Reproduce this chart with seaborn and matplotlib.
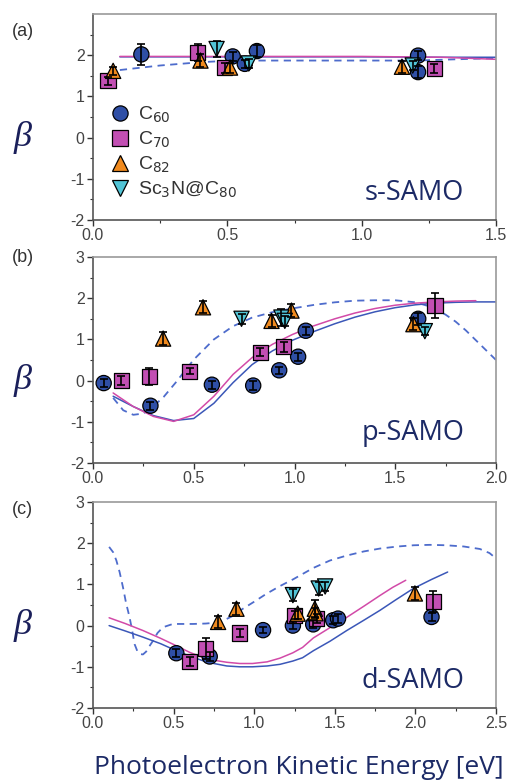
import numpy as np
import pandas as pd
import matplotlib
matplotlib.use("Agg")
import matplotlib.pyplot as plt
import seaborn as sns

sns.set_theme(style="ticks")
plt.rcParams['font.family'] = ['Liberation Sans', 'DejaVu Sans']

# ---------------- data ----------------
species = ["C$_{60}$", "C$_{70}$", "C$_{82}$", "Sc$_3$N@C$_{80}$"]

# panel (a) s-SAMO
a_c60_x = [0.18, 0.52, 0.565, 0.61, 1.21, 1.21]
a_c60_y = [2.02, 1.97, 1.79, 2.10, 1.99, 1.59]
a_c60_e = [0.25, 0.10, 0.10, 0.15, 0.10, 0.15]
a_c70_x = [0.056, 0.39, 0.49, 1.27]
a_c70_y = [1.38, 2.07, 1.70, 1.68]
a_c70_e = [0.10, 0.20, 0.12, 0.10]
a_c82_x = [0.075, 0.40, 0.51, 1.15]
a_c82_y = [1.62, 1.87, 1.70, 1.72]
a_c82_e = [0.10, 0.15, 0.12, 0.15]
a_sc_x = [0.46, 0.58, 1.19]
a_sc_y = [2.15, 1.80, 1.75]
a_sc_e = [0.20, 0.10, 0.10]

a_mag_x = [0.1, 0.5, 1.0, 1.3, 1.5]
a_mag_y = [1.97, 1.97, 1.97, 1.95, 1.90]
a_blu_x = [0.1, 0.5, 1.0, 1.3, 1.5]
a_blu_y = [1.96, 1.96, 1.96, 1.95, 1.95]
a_dash_x = [0.1, 0.25, 0.4, 0.52, 0.7, 1.0, 1.2, 1.35, 1.5]
a_dash_y = [1.64, 1.75, 1.83, 1.87, 1.87, 1.87, 1.87, 1.90, 1.93]

# panel (b) p-SAMO
b_c60_x = [0.053, 0.285, 0.59, 0.795, 0.924, 1.018, 1.056, 1.614]
b_c60_y = [-0.06, -0.61, -0.10, -0.12, 0.25, 0.58, 1.21, 1.50]
b_c60_e = [0.10, 0.10, 0.10, 0.12, 0.08, 0.10, 0.10, 0.15]
b_c70_x = [0.14, 0.28, 0.48, 0.83, 0.947, 1.697]
b_c70_y = [0.00, 0.10, 0.23, 0.69, 0.82, 1.82]
b_c70_e = [0.10, 0.20, 0.08, 0.10, 0.12, 0.30]
b_c82_x = [0.348, 0.546, 0.886, 0.985, 1.59]
b_c82_y = [1.02, 1.78, 1.45, 1.70, 1.37]
b_c82_e = [0.15, 0.15, 0.15, 0.15, 0.15]
b_sc_x = [0.737, 0.935, 0.952, 1.647]
b_sc_y = [1.50, 1.53, 1.45, 1.20]
b_sc_e = [0.12, 0.20, 0.12, 0.10]

b_mag_x = [0.1, 0.2, 0.3, 0.4, 0.5, 0.6, 0.695, 0.79, 0.89, 0.99, 1.09, 1.2, 1.3, 1.4, 1.5, 1.6, 1.7, 1.8, 1.9]
b_mag_y = [-0.30, -0.63, -0.87, -0.99, -0.83, -0.38, 0.15, 0.56, 0.88, 1.12, 1.32, 1.50, 1.64, 1.75, 1.83, 1.88, 1.91, 1.93, 1.94]
b_blu_x = [0.1, 0.2, 0.3, 0.4, 0.5, 0.6, 0.695, 0.79, 0.89, 0.99, 1.09, 1.2, 1.3, 1.4, 1.5, 1.6, 1.7, 1.8, 1.9, 2.0]
b_blu_y = [-0.38, -0.63, -0.85, -0.97, -0.92, -0.55, -0.05, 0.39, 0.72, 0.98, 1.18, 1.38, 1.54, 1.67, 1.77, 1.84, 1.88, 1.90, 1.91, 1.91]
b_dash_x = [0.1, 0.15, 0.2, 0.25, 0.3, 0.35, 0.41, 0.5, 0.6, 0.695, 0.79, 0.89, 1.0, 1.1, 1.2, 1.3, 1.4, 1.5, 1.6, 1.65, 1.7, 1.75, 1.8, 1.85, 1.9, 1.95, 2.0]
b_dash_y = [-0.42, -0.72, -0.83, -0.80, -0.62, -0.40, -0.05, 0.51, 1.00, 1.32, 1.53, 1.66, 1.76, 1.84, 1.90, 1.94, 1.95, 1.95, 1.90, 1.83, 1.73, 1.60, 1.43, 1.22, 0.98, 0.74, 0.50]

# panel (c) d-SAMO
c_c60_x = [0.517, 0.724, 1.055, 1.24, 1.366, 1.49, 1.52, 2.10]
c_c60_y = [-0.67, -0.75, -0.11, 0.00, 0.03, 0.13, 0.17, 0.21]
c_c60_e = [0.10, 0.12, 0.08, 0.08, 0.10, 0.10, 0.10, 0.10]
c_c70_x = [0.60, 0.70, 0.91, 1.25, 1.387, 2.11]
c_c70_y = [-0.87, -0.56, -0.18, 0.25, 0.17, 0.58]
c_c70_e = [0.10, 0.25, 0.10, 0.10, 0.10, 0.25]
c_c82_x = [0.776, 0.89, 1.27, 1.376, 1.38, 1.997]
c_c82_y = [0.09, 0.41, 0.29, 0.41, 0.30, 0.78]
c_c82_e = [0.15, 0.15, 0.12, 0.20, 0.12, 0.15]
c_sc_x = [1.24, 1.40, 1.44]
c_sc_y = [0.74, 0.90, 0.95]
c_sc_e = [0.15, 0.15, 0.12]

c_mag_x = [0.1, 0.2, 0.31, 0.42, 0.517, 0.6, 0.68, 0.75, 0.83, 0.91, 0.99, 1.08, 1.16, 1.24, 1.3, 1.367, 1.47, 1.574, 1.68, 1.78, 1.86, 1.94]
c_mag_y = [0.19, 0.05, -0.12, -0.31, -0.49, -0.65, -0.77, -0.84, -0.89, -0.92, -0.92, -0.88, -0.79, -0.66, -0.53, -0.30, -0.05, 0.20, 0.47, 0.73, 0.93, 1.10]
c_blu_x = [0.1, 0.2, 0.31, 0.42, 0.517, 0.6, 0.68, 0.75, 0.83, 0.91, 0.99, 1.08, 1.16, 1.24, 1.3, 1.367, 1.47, 1.574, 1.68, 1.78, 1.88, 1.987, 2.1, 2.2]
c_blu_y = [0.00, -0.13, -0.28, -0.44, -0.61, -0.74, -0.85, -0.92, -0.98, -1.00, -1.00, -0.98, -0.94, -0.86, -0.78, -0.61, -0.38, -0.12, 0.13, 0.37, 0.63, 0.90, 1.12, 1.30]
c_dash_x = [0.1, 0.125, 0.145, 0.165, 0.186, 0.205, 0.227, 0.243, 0.258, 0.275, 0.29, 0.31, 0.33, 0.35, 0.372, 0.40, 0.434, 0.496, 0.56, 0.62, 0.70, 0.786, 0.86, 0.93, 1.0, 1.075, 1.16, 1.24, 1.367, 1.47, 1.574, 1.68, 1.78, 1.89, 1.99, 2.09, 2.19, 2.3, 2.4, 2.46, 2.5]
c_dash_y = [1.91, 1.78, 1.58, 1.30, 0.93, 0.55, 0.20, -0.12, -0.45, -0.62, -0.69, -0.70, -0.63, -0.50, -0.37, -0.18, -0.04, 0.04, 0.04, 0.04, 0.05, 0.08, 0.22, 0.41, 0.58, 0.77, 0.96, 1.12, 1.40, 1.58, 1.70, 1.80, 1.87, 1.92, 1.95, 1.96, 1.95, 1.92, 1.86, 1.76, 1.63]

# ---------------- styles ----------------
palette = {species[0]: "#2f4fa6", species[1]: "#c24fb3",
           species[2]: "#f08a1e", species[3]: "#52c4d6"}
markers = {species[0]: "o", species[1]: "s", species[2]: "^", species[3]: "v"}
BLUE_LINE = "#3b57b8"
MAG_LINE = "#d24aa8"
DASH_LINE = "#4e6ccc"
TXT = "#1c2a66"

W, H = 531, 784
fig = plt.figure(figsize=(W / 100, H / 100), dpi=100)

left, right = 93 / W, 496 / W
panels = [
    dict(top=14, bottom=220, xmax=1.5, xt=[0.0, 0.5, 1.0, 1.5], yt=[-2, -1, 0, 1, 2],
         pts=[(a_c60_x, a_c60_y, a_c60_e), (a_c70_x, a_c70_y, a_c70_e),
              (a_c82_x, a_c82_y, a_c82_e), (a_sc_x, a_sc_y, a_sc_e)],
         mag=(a_mag_x, a_mag_y), blu=(a_blu_x, a_blu_y), dash=(a_dash_x, a_dash_y),
         label="(a)", label_y=31, samo="s-SAMO", samo_xy=(1.195, -1.34)),
    dict(top=257, bottom=463, xmax=2.0, xt=[0.0, 0.5, 1.0, 1.5, 2.0], yt=[-2, -1, 0, 1, 2, 3],
         pts=[(b_c60_x, b_c60_y, b_c60_e), (b_c70_x, b_c70_y, b_c70_e),
              (b_c82_x, b_c82_y, b_c82_e), (b_sc_x, b_sc_y, b_sc_e)],
         mag=(b_mag_x, b_mag_y), blu=(b_blu_x, b_blu_y), dash=(b_dash_x, b_dash_y),
         label="(b)", label_y=258, samo="p-SAMO", samo_xy=(1.59, -1.27)),
    dict(top=502, bottom=708, xmax=2.5, xt=[0.0, 0.5, 1.0, 1.5, 2.0, 2.5], yt=[-2, -1, 0, 1, 2, 3],
         pts=[(c_c60_x, c_c60_y, c_c60_e), (c_c70_x, c_c70_y, c_c70_e),
              (c_c82_x, c_c82_y, c_c82_e), (c_sc_x, c_sc_y, c_sc_e)],
         mag=(c_mag_x, c_mag_y), blu=(c_blu_x, c_blu_y), dash=(c_dash_x, c_dash_y),
         label="(c)", label_y=510, samo="d-SAMO", samo_xy=(1.985, -1.34)),
]

for i, p in enumerate(panels):
    ax = fig.add_axes([left, 1 - p["bottom"] / H, right - left, (p["bottom"] - p["top"]) / H])
    # theory curves
    sns.lineplot(x=p["dash"][0], y=p["dash"][1], ax=ax, color=DASH_LINE, lw=1.3,
                 linestyle=(0, (4, 3)), zorder=1, sort=False)
    sns.lineplot(x=p["blu"][0], y=p["blu"][1], ax=ax, color=BLUE_LINE, lw=1.1, zorder=1)
    sns.lineplot(x=p["mag"][0], y=p["mag"][1], ax=ax, color=MAG_LINE, lw=1.1, zorder=1)

    rows = []
    for sp, (xs, ys, es) in zip(species, p["pts"]):
        for xv, yv in zip(xs, ys):
            rows.append(dict(x=xv, beta=yv, species=sp))
        ax.errorbar(xs, ys, yerr=es, fmt="none", ecolor="black", elinewidth=1.2,
                    capsize=3, capthick=1.2, zorder=4)
    df = pd.DataFrame(rows)
    sns.scatterplot(data=df, x="x", y="beta", hue="species", style="species",
                    palette=palette, markers=markers, hue_order=species, style_order=species,
                    s=120, edgecolor="black", linewidth=0.9, ax=ax, zorder=3,
                    legend=(i == 0))

    ax.set_xlim(0, p["xmax"])
    ax.set_ylim(-2, 3)
    ax.set_xticks(p["xt"])
    ax.set_xticklabels([f"{t:.1f}" for t in p["xt"]])
    ax.set_yticks(p["yt"])
    ax.set_yticklabels([f"{t:d}" for t in p["yt"]])
    ax.set_xticks(np.arange(0.25, p["xmax"], 0.5), minor=True)
    ax.set_yticks(np.arange(-1.5, 3.0, 1.0), minor=True)
    ax.tick_params(axis="both", which="major", direction="out", length=4, width=1.0,
                   labelsize=11.5, colors="#333333", labelcolor="#444444", pad=2)
    ax.tick_params(axis="both", which="minor", direction="out", length=2.5, width=0.8,
                   colors="#333333")
    ax.set_xlabel("")
    ax.set_ylabel("")
    for s in ["left", "bottom"]:
        ax.spines[s].set_color("#555555")
        ax.spines[s].set_linewidth(1.2)
    for s in ["top", "right"]:
        ax.spines[s].set_color("#999999")
        ax.spines[s].set_linewidth(1.2)

    ax.text(p["samo_xy"][0], p["samo_xy"][1], p["samo"], ha="center", va="center",
            fontsize=19.5, color=TXT, family="Open Sans")

    # beta label at the zero level of each panel
    y0 = 1 - (p["bottom"] - (p["bottom"] - p["top"]) * 2 / 5) / H
    fig.text(23 / W, y0, "β", ha="center", va="center", fontsize=26,
             style="italic", family="Liberation Serif", color="#1a1f5a")
    fig.text(12 / W, 1 - p["label_y"] / H, p["label"],
             ha="left", va="center", fontsize=13, color="#333333")

    if i == 0:
        leg = ax.legend(loc="lower left", bbox_to_anchor=(0.0, 0.04), frameon=False,
                        fontsize=14, handletextpad=0.1, labelspacing=0.25,
                        borderaxespad=0.2, handlelength=1.6, markerscale=1.0)
        for t in leg.get_texts():
            t.set_color("#333333")

fig.text(299 / W, 1 - 767 / H, "Photoelectron Kinetic Energy [eV]", ha="center",
         va="center", fontsize=19, color=TXT, family="Open Sans")

fig.savefig("out.png", dpi=100)
